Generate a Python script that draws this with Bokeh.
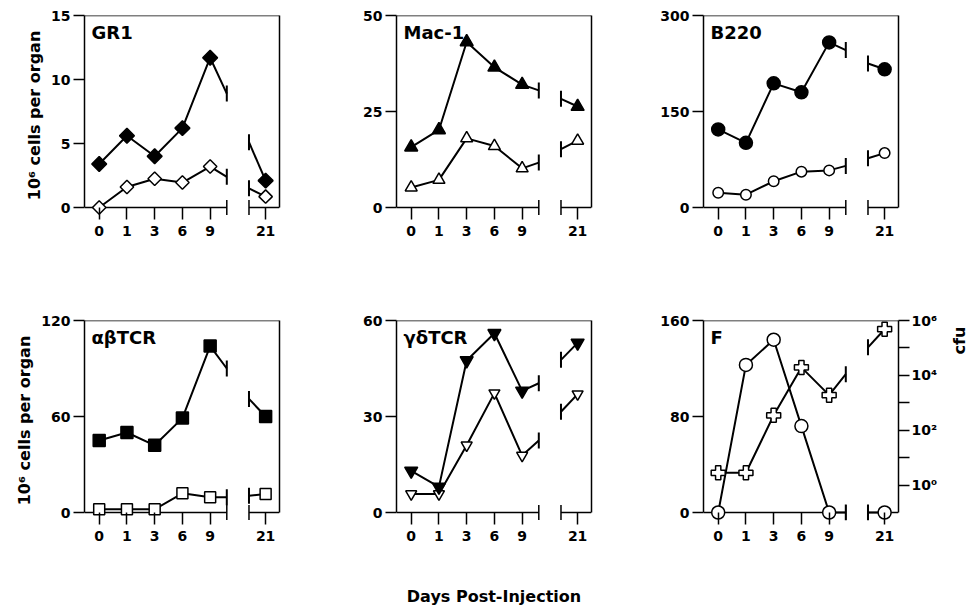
import math
import numpy as np
from bokeh.plotting import figure
from bokeh.models import Range1d, LinearAxis, FixedTicker, Span, Label
from bokeh.layouts import column, row
from bokeh.embed import file_html
from bokeh.resources import INLINE

# ---------------- data ----------------
days = [0, 1, 3, 6, 9, 21]
day_labels = ["0", "1", "3", "6", "9", "21"]

gr1_filled = [3.4, 5.6, 4.0, 6.2, 11.7, 2.1]
gr1_filled_break = [8.9, 5.1]
gr1_open = [0.0, 1.6, 2.25, 1.95, 3.2, 0.85]
gr1_open_break = [2.4, 1.5]
gr1_ticks = [0, 5, 10, 15]

mac1_filled = [15.7, 20.2, 43.1, 36.5, 32.0, 26.3]
mac1_filled_break = [30.5, 28.3]
mac1_open = [5.2, 7.2, 18.0, 16.0, 10.2, 17.4]
mac1_open_break = [11.7, 15.2]
mac1_ticks = [0, 25, 50]

b220_filled = [122, 101, 194, 180, 258, 216]
b220_filled_break = [246, 225]
b220_open = [23, 20, 41, 56, 58, 85]
b220_open_break = [65, 77]
b220_ticks = [0, 150, 300]

abtcr_filled = [45, 50, 42, 59, 104, 60]
abtcr_filled_break = [90, 71]
abtcr_open = [2, 2, 2, 12, 9.5, 11.5]
abtcr_open_break = [9.5, 10.5]
abtcr_ticks = [0, 60, 120]

gdtcr_filled = [13, 8, 47.5, 56, 38, 53]
gdtcr_filled_break = [40.4, 47.7]
gdtcr_open = [5.8, 5.8, 21, 37.3, 17.8, 37]
gdtcr_open_break = [22.5, 31.5]
gdtcr_ticks = [0, 30, 60]

f_cells = [0, 123, 144, 72, 0, 0]
f_cells_break = [0, 0]
f_cfu = [2.8, 2.8, 350, 19500, 1900, 480000]
f_cfu_break = [11000, 105000]
f_ticks = [0, 80, 160]
cfu_exponents = [0, 1, 2, 3, 4, 5, 6]
cfu_labels = ["10⁰", "", "10²", "", "10⁴", "", "10⁶"]

# ---------------- layout / style ----------------
FONT = "DejaVu Sans"
X_START, X_END = -0.53, 6.5
BRK_LO, BRK_HI = 4.6, 5.4
PLOT_H = 192
PAD = 8
COL_W = [320, 307, 320]
COL_LEFT = [84, 76, 76]
ROW_H = [306, 305]
ROW_TOP = [15, 14]
FRAME_W = 195
FRAME_H = PLOT_H + PAD
CFU_STRIP_W = 24
CFU_LOG_MIN, CFU_LOG_MAX = -1, 6
CFU_TITLE_AT = 5.27   # height of the "cfu" title on the log scale

# axis slots: five days before the break, day 21 one slot after it
xpos = list(range(len(days) - 1)) + [len(days)]


def style_ticks(ax, size="14px"):
    ax.major_label_text_font = FONT
    ax.major_label_text_font_style = "bold"
    ax.major_label_text_font_size = size
    ax.major_label_text_color = "black"
    ax.minor_tick_line_color = None
    ax.major_tick_line_color = "black"
    ax.major_tick_line_width = 1.5
    ax.axis_line_color = "black"
    ax.axis_line_width = 1.5


def make_panel(ci, ri, title, ticks, right_axis=True):
    ymax = ticks[-1]
    ystart = -ymax * PAD / PLOT_H
    w = COL_W[ci]
    h = ROW_H[ri]
    left = COL_LEFT[ci]
    p = figure(width=w, height=h,
               x_range=Range1d(X_START, X_END), y_range=Range1d(ystart, ymax),
               output_backend="svg", toolbar_location=None, tools="",
               min_border_left=left, min_border_right=w - left - FRAME_W,
               min_border_top=ROW_TOP[ri], min_border_bottom=h - ROW_TOP[ri] - FRAME_H)
    p.outline_line_color = None
    p.grid.visible = False
    p.background_fill_color = "white"
    p.border_fill_color = "white"

    xa = p.xaxis[0]
    style_ticks(xa)
    xa.ticker = FixedTicker(ticks=xpos, minor_ticks=[])
    xa.major_label_overrides = {xp: lab for xp, lab in zip(xpos, day_labels)}
    xa.axis_line_color = None
    xa.major_tick_in = PAD
    xa.major_tick_out = 4
    xa.major_label_standoff = 6

    ya = p.yaxis[0]
    style_ticks(ya)
    ya.ticker = FixedTicker(ticks=ticks, minor_ticks=[])
    ya.bounds = (0, ymax)
    ya.major_tick_in = 0
    ya.major_tick_out = 11
    ya.major_label_standoff = 3

    if right_axis:
        ra = LinearAxis(ticker=FixedTicker(ticks=[], minor_ticks=[]), bounds=(0, ymax),
                        major_label_text_font_size="0px", major_tick_out=0, major_tick_in=0,
                        minor_tick_line_color=None, axis_line_width=1.5, axis_line_color="black")
        p.add_layout(ra, "right")

    p.add_layout(Span(location=ymax, dimension="width", line_color="black", line_width=1.5))
    # broken baseline
    p.segment(x0=[X_START, BRK_HI], y0=[0, 0], x1=[BRK_LO, X_END], y1=[0, 0],
              line_color="black", line_width=1.5)
    p.scatter(x=[BRK_LO, BRK_HI], y=[0, 0], marker="dash", angle=math.pi / 2, size=15,
              line_color="black", line_width=1.5)
    p.add_layout(Label(x=X_START, y=ymax, x_offset=7, y_offset=-6, text=title,
                       text_font=FONT, text_font_style="bold", text_font_size="18px",
                       text_baseline="top", text_align="left", text_color="black"))
    return p


def draw_series(p, vals, brk, marker, filled, size, angle=0.0, y_range_name="default"):
    ys_main = list(vals[:5]) + [brk[0]]
    xs_main = xpos[:5] + [BRK_LO]
    p.line(xs_main, ys_main, line_color="black", line_width=2, y_range_name=y_range_name)
    p.line([BRK_HI, xpos[5]], [brk[1], vals[5]], line_color="black", line_width=2,
           y_range_name=y_range_name)
    p.scatter(x=[BRK_LO, BRK_HI], y=list(brk), marker="dash", angle=math.pi / 2, size=16,
              line_color="black", line_width=2, y_range_name=y_range_name)
    p.scatter(x=xpos, y=list(vals), marker=marker, size=size, angle=angle,
              fill_color="black" if filled else "white", line_color="black", line_width=1.5,
              y_range_name=y_range_name)


def ylabel(p):
    p.yaxis[0].axis_label = "10⁶ cells per organ"
    p.yaxis[0].axis_label_text_font = FONT
    p.yaxis[0].axis_label_text_font_style = "bold"
    p.yaxis[0].axis_label_text_font_size = "16px"
    p.yaxis[0].axis_label_text_color = "black"
    p.yaxis[0].axis_label_standoff = 4


# GR1
p1 = make_panel(0, 0, "GR1", gr1_ticks)
ylabel(p1)
draw_series(p1, gr1_open, gr1_open_break, "square", False, 9.5, angle=math.pi / 4)
draw_series(p1, gr1_filled, gr1_filled_break, "square", True, 10.5, angle=math.pi / 4)

# Mac-1
p2 = make_panel(1, 0, "Mac-1", mac1_ticks)
draw_series(p2, mac1_open, mac1_open_break, "triangle", False, 12)
draw_series(p2, mac1_filled, mac1_filled_break, "triangle", True, 13)

# B220
p3 = make_panel(2, 0, "B220", b220_ticks)
draw_series(p3, b220_open, b220_open_break, "circle", False, 10.5)
draw_series(p3, b220_filled, b220_filled_break, "circle", True, 13)

# alpha-beta TCR
p4 = make_panel(0, 1, "αβTCR", abtcr_ticks)
ylabel(p4)
draw_series(p4, abtcr_filled, abtcr_filled_break, "square", True, 12)
draw_series(p4, abtcr_open, abtcr_open_break, "square", False, 11)

# gamma-delta TCR
p5 = make_panel(1, 1, "γδTCR", gdtcr_ticks)
draw_series(p5, gdtcr_open, gdtcr_open_break, "inverted_triangle", False, 11)
draw_series(p5, gdtcr_filled, gdtcr_filled_break, "inverted_triangle", True, 13)
xa5 = p5.xaxis[0]
xa5.axis_label = "Days Post-Injection"
xa5.axis_label_text_font = FONT
xa5.axis_label_text_font_style = "bold"
xa5.axis_label_text_font_size = "16px"
xa5.axis_label_text_color = "black"
xa5.axis_label_standoff = 43

# F
cfu_start = CFU_LOG_MIN - (CFU_LOG_MAX - CFU_LOG_MIN) * PAD / PLOT_H
p6 = make_panel(2, 1, "F", f_ticks, right_axis=False)
p6.extra_y_ranges = {"cfu": Range1d(cfu_start, CFU_LOG_MAX)}
ca = LinearAxis(y_range_name="cfu", ticker=FixedTicker(ticks=cfu_exponents, minor_ticks=[]),
                bounds=(CFU_LOG_MIN, CFU_LOG_MAX))
style_ticks(ca)
ca.major_label_overrides = {e: lab for e, lab in zip(cfu_exponents, cfu_labels)}
ca.major_tick_in = 0
ca.major_tick_out = 11
ca.major_label_standoff = 2
p6.add_layout(ca, "right")
draw_series(p6, f_cells, f_cells_break, "circle", False, 13)
draw_series(p6, np.log10(f_cfu), np.log10(f_cfu_break), "plus", False, 14, y_range_name="cfu")

# narrow strip carrying the "cfu" axis title (same vertical scale as the F panel)
pc = figure(width=CFU_STRIP_W, height=ROW_H[1], x_range=Range1d(0, 1),
            y_range=Range1d(cfu_start, CFU_LOG_MAX), x_axis_type=None, y_axis_type=None,
            output_backend="svg", toolbar_location=None, tools="",
            min_border_left=0, min_border_right=0, min_border_top=ROW_TOP[1],
            min_border_bottom=ROW_H[1] - ROW_TOP[1] - FRAME_H)
pc.outline_line_color = None
pc.grid.visible = False
pc.add_layout(Label(x=0.5, y=CFU_TITLE_AT, text="cfu", angle=math.pi / 2,
                    text_font=FONT, text_font_style="bold", text_font_size="16px",
                    text_align="center", text_baseline="middle", text_color="black"))

spacer_top = figure(width=CFU_STRIP_W, height=ROW_H[0], x_axis_type=None, y_axis_type=None,
                    output_backend="svg", toolbar_location=None, tools="",
                    min_border=0)
spacer_top.outline_line_color = None
spacer_top.grid.visible = False

layout = column(row(p1, p2, p3, spacer_top), row(p4, p5, p6, pc))
open("out.html", "w").write(file_html(layout, INLINE))
